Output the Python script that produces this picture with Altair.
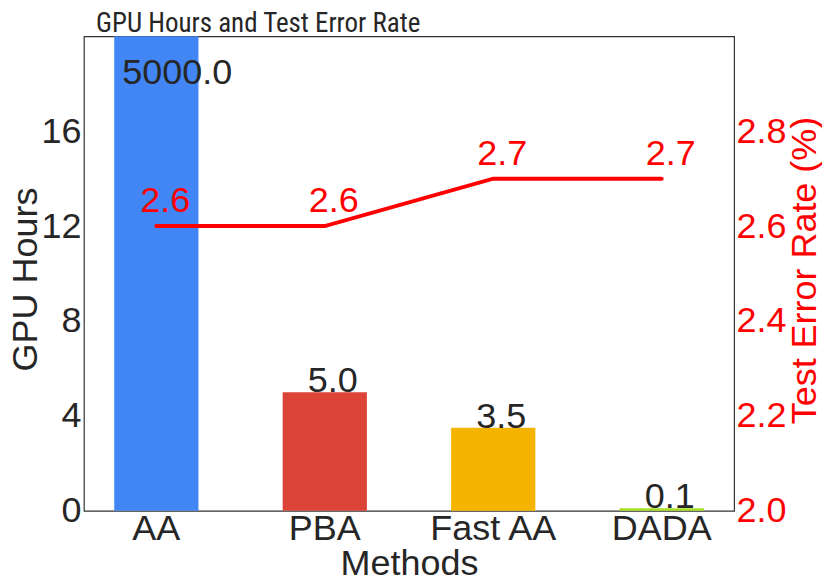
import altair as alt
import pandas as pd

methods = ["AA", "PBA", "Fast AA", "DADA"]
gpu_hours = [5000.0, 5.0, 3.5, 0.1]
error_rates = [2.6, 2.6, 2.7, 2.7]
bar_colors = ["#4285F4", "#DB4437", "#F4B400", "#A6E022"]

gpu_max = 20
err_min, err_max = 2.0, 3.0
gpu_ticks = [0, 4, 8, 12, 16]
err_ticks = [2.0, 2.2, 2.4, 2.6, 2.8]

df = pd.DataFrame({
    "method": methods,
    "hours": gpu_hours,
    "err": error_rates,
})
df["bar_y"] = df["hours"].clip(upper=gpu_max)
df["label_y"] = df["hours"].clip(upper=0.9 * gpu_max)

FONT = "Liberation Sans"
DARK = "#262626"

x_enc = alt.X("method:N", sort=methods,
              scale=alt.Scale(paddingInner=0.5, paddingOuter=0.18),
              axis=alt.Axis(title="Methods", labelAngle=0, labelFontSize=36,
                            labelBaseline="alphabetic", labelPadding=29,
                            ticks=False, tickSize=0, domain=False, grid=False,
                            titleFontSize=36, titleFontWeight="normal",
                            titleBaseline="alphabetic", titleY=64,
                            labelColor=DARK, titleColor=DARK))
x_plain = alt.X("method:N", sort=methods)

y_left_scale = alt.Scale(domain=[0, gpu_max], nice=False, clamp=True)
y_right_scale = alt.Scale(domain=[err_min, err_max], nice=False)

bars = alt.Chart(df).mark_bar().encode(
    x=x_enc,
    y=alt.Y("bar_y:Q", scale=y_left_scale,
            axis=alt.Axis(title="GPU Hours", values=gpu_ticks, labelFontSize=36,
                          labelPadding=3, ticks=False, tickSize=0, domain=False,
                          grid=False, labelFlush=False, labelOverlap=False,
                          titleFontSize=36, titleFontWeight="normal",
                          titleAngle=270, titleBaseline="alphabetic",
                          titleX=-47, titleY=243,
                          labelColor=DARK, titleColor=DARK)),
    color=alt.Color("method:N", scale=alt.Scale(domain=methods, range=bar_colors),
                    legend=None),
)

bar_labels_main = alt.Chart(df).transform_filter(
    alt.datum.method != "AA"
).mark_text(fontSize=36, baseline="alphabetic", align="center", dx=8,
            color=DARK, font=FONT).encode(
    x=x_plain,
    y=alt.Y("label_y:Q", scale=y_left_scale, axis=None),
    text=alt.Text("hours:Q", format=".1f"),
)

bar_labels_top = alt.Chart(df).transform_filter(
    alt.datum.method == "AA"
).mark_text(fontSize=36, baseline="alphabetic", align="center", dx=21,
            color=DARK, font=FONT).encode(
    x=x_plain,
    y=alt.Y("label_y:Q", scale=y_left_scale, axis=None),
    text=alt.Text("hours:Q", format=".1f"),
)

line = alt.Chart(df).mark_line(color="#FF0000", strokeWidth=4, strokeCap="round").encode(
    x=x_plain,
    y=alt.Y("err:Q", scale=y_right_scale,
            axis=alt.Axis(orient="right", title="Test Error Rate (%)", values=err_ticks,
                          format=".1f", labelFontSize=36, labelPadding=2,
                          labelAlign="left", ticks=False, tickSize=0, domain=False,
                          grid=False, labelFlush=False, labelOverlap=False,
                          titleFontSize=36, titleFontWeight="normal",
                          titleAngle=270, titleBaseline="alphabetic",
                          titleX=81, titleY=234,
                          labelColor="#FF0000", titleColor="#FF0000")),
)

line_labels = alt.Chart(df).mark_text(fontSize=36, baseline="alphabetic", align="center",
                                      dx=9, dy=-14, color="#FF0000", font=FONT).encode(
    x=x_plain,
    y=alt.Y("err:Q", scale=y_right_scale, axis=None),
    text=alt.Text("err:Q", format=".1f"),
)

chart = alt.layer(
    bars, bar_labels_main, bar_labels_top, line, line_labels
).resolve_scale(
    y="independent"
).properties(
    width=651, height=475,
    background="white",
    title=alt.TitleParams("GPU Hours and Test Error Rate",
                          font="Roboto Condensed, Liberation Sans",
                          fontSize=27, fontWeight="normal", color=DARK,
                          anchor="middle", frame="group", dx=-151, offset=-23,
                          baseline="alphabetic"),
    padding={"left": 0, "top": 2, "right": 0, "bottom": 0},
).configure_view(
    stroke="#333333", strokeWidth=1.2
).configure_axis(
    labelFont=FONT, titleFont=FONT
)

chart.save("out.html", embed_options={"renderer": "svg", "actions": False})
